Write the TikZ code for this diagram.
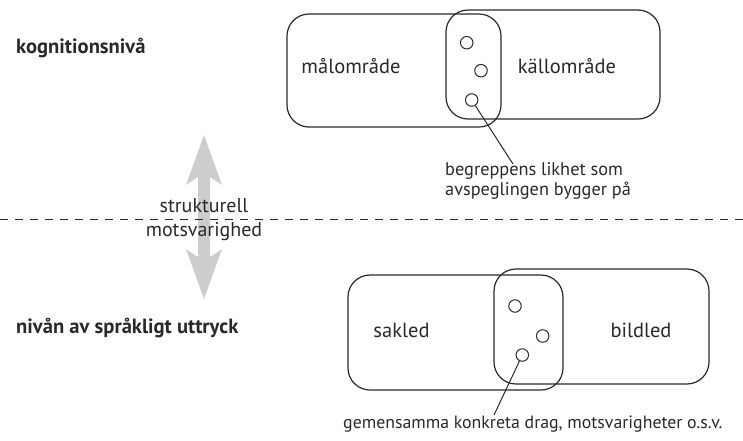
\documentclass[tikz,border=0pt]{standalone}
\usepackage{fontspec}
\setmainfont{PT Sans}
\definecolor{ink}{HTML}{2B2828}
\definecolor{arrowgray}{HTML}{CDCDCD}
\tikzset{
  box/.style={draw=ink, line width=1.2pt, rounded corners=22pt, inner sep=0pt},
  dot/.style={draw=ink, line width=1pt, circle, minimum size=12.5pt, inner sep=0pt},
  txt/.style={text=ink, inner sep=0pt, font=\fontsize{18.3}{22}\selectfont},
  boxtxt/.style={text=ink, inner sep=0pt, font=\fontsize{20.5}{24}\selectfont},
  midtxt/.style={text=ink, inner sep=0pt, font=\fontsize{20}{24}\selectfont},
  lvl/.style={text=ink, inner sep=0pt, font=\fontsize{20.6}{24}\selectfont\bfseries},
  conn/.style={draw=ink, line width=1pt},
}
\begin{document}
\begin{tikzpicture}[x=1pt,y=-1pt]
\useasboundingbox (0,0) rectangle (743,440);
% gray double arrow
\fill[arrowgray] (204,135) -- (222,185) -- (210,177) -- (210,257) -- (222,249) -- (204,299)
  -- (186,249) -- (198,257) -- (198,177) -- (186,185) -- cycle;
% dashed separator
\coordinate (dl) at (0,219);
\coordinate (dr) at (743,219);
\draw[ink, line width=1pt, dash pattern=on 8pt off 7pt] (dl) -- (dr);
% level labels
\node[lvl, anchor=base west] (kog) at (16,53) {kognitionsnivå};
\node[lvl, anchor=base west] (spr) at (16,333) {nivån av språkligt uttryck};
\node[midtxt, anchor=base] (str1) at (204,212.5) {strukturell};
\node[midtxt, anchor=base] (str2) at (204,236) {motsvarighed};
% top diagram
\node[box, minimum width=214pt, minimum height=113pt] (mal) at (394,70.5) {};
\node[box, minimum width=214pt, minimum height=109pt] (kall) at (553,64.5) {};
\node[boxtxt, anchor=base] (malt) at (351,73) {målområde};
\node[boxtxt, anchor=base] (kallt) at (567,73) {källområde};
\node[dot] (c1) at (466.7,42.7) {};
\node[dot] (c2) at (481,70.7) {};
\node[dot] (c3) at (471.7,100) {};
\coordinate (e1) at (513,164);
\draw[conn] (c3) -- (e1);
\node[txt, anchor=base west] (ann1) at (445,175) {begreppens likhet som};
\node[txt, anchor=base west] (ann2) at (445,195.5) {avspeglingen bygger på};
% bottom diagram
\node[box, minimum width=215pt, minimum height=115pt] (sak) at (455.5,332.5) {};
\node[box, minimum width=215pt, minimum height=115pt] (bild) at (601.5,326.5) {};
\node[boxtxt, anchor=base] (sakt) at (401.5,337) {sakled};
\node[boxtxt, anchor=base] (bildt) at (641,337) {bildled};
\node[dot] (c4) at (515,306) {};
\node[dot] (c5) at (542.7,336) {};
\node[dot] (c6) at (522.3,355) {};
\coordinate (e2) at (494,415);
\draw[conn] (c6) -- (e2);
\node[txt, anchor=base west, font=\fontsize{17.8}{22}\selectfont] (ann3) at (343,428.5) {gemensamma konkreta drag, motsvarigheter o.s.v.};
\end{tikzpicture}
\end{document}
